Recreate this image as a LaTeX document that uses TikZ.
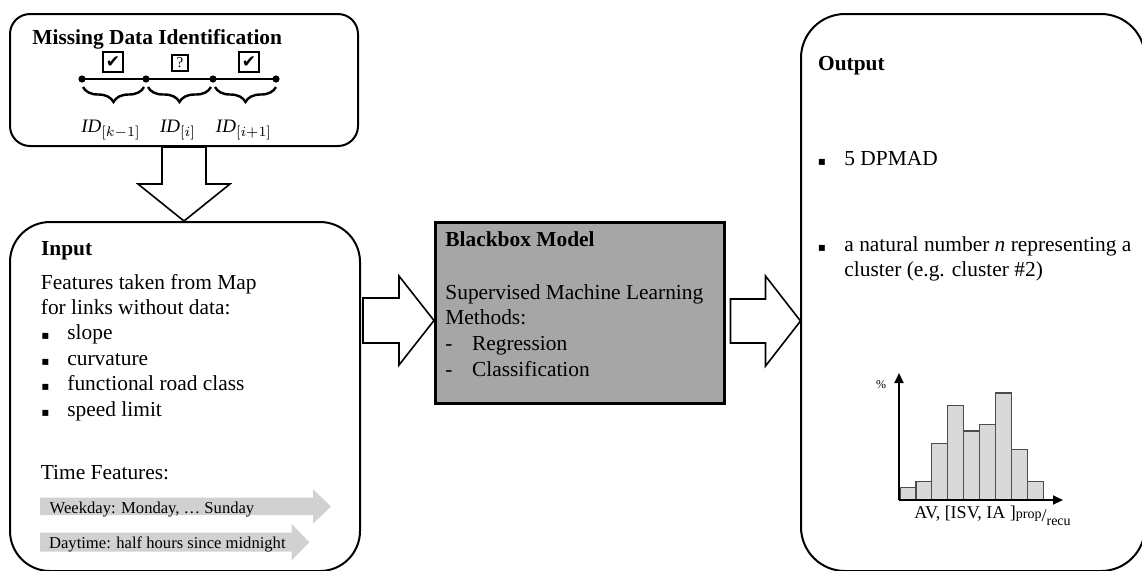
\documentclass[tikz,border=0pt]{standalone}
\usepackage{fontspec}
\setmainfont{Liberation Serif}
\newfontfamily\symfont{DejaVu Sans}
\usetikzlibrary{calc,arrows.meta,decorations.pathreplacing}

\tikzset{
  caja/.style={draw, line width=1pt, rounded corners=#1, inner sep=0pt},
  txt/.style={anchor=base west, inner sep=0pt, font=\fontsize{10.7}{12.85}\selectfont},
  titulo/.style={txt, font=\fontsize{10.7}{12.85}\selectfont\bfseries},
  vineta/.style={anchor=base, inner sep=0pt, font=\symfont\fontsize{6}{7}\selectfont},
  flecha/.style={draw, line width=0.8pt, fill=white, line join=miter},
  gris/.style={fill=black!18},
  chk/.style={draw, line width=0.6pt, minimum size=10pt, inner sep=0pt, font=\symfont\fontsize{8.5}{9}\selectfont},
  llave/.style={decorate, decoration={brace, mirror, amplitude=7.5pt}, line width=1.2pt},
  barra/.style={draw=black!70, fill=black!15, line width=0.6pt},
  eje/.style={line width=1pt, -{Triangle[length=5pt,width=4.5pt]}}
}

\begin{document}
\begin{tikzpicture}[x=0.5pt, y=-0.5pt]
  \useasboundingbox (0,0) rectangle (1142,570);

  % Cajas
  \node[caja=10pt, minimum width=174pt, minimum height=66pt] (misdata) at (184,80) {};
  \node[caja=20pt, minimum width=175pt, minimum height=174.5pt] (input) at (185,396.5) {};
  \node[draw, line width=1.5pt, fill=black!35, minimum width=144.5pt, minimum height=90.5pt] (model) at (579.5,312.5) {};
  \node[caja=22pt, minimum width=172pt, minimum height=278.5pt] (output) at (973,292.5) {};

  % Missing Data Identification
  \node[titulo] (mdtitle) at (32,44) {Missing Data Identification};
  \coordinate (p0) at (82,79);
  \coordinate (p1) at (146,79);
  \coordinate (p2) at (213,79);
  \coordinate (p3) at (276,79);
  \draw[line width=0.8pt] (p0) -- (p3);
  \foreach \p in {p0,p1,p2,p3}
    \fill (\p) circle (1.8pt);
  \node[chk] (chk1) at (113,62) {✔};
  \node[chk, minimum size=8pt, font=\fontsize{7.5}{8}\selectfont] (qst) at (180,63) {?};
  \node[chk] (chk2) at (249,62) {✔};
  \draw[llave] (83,87) -- (144,87);
  \draw[llave] (148,87) -- (211,87);
  \draw[llave] (215,87) -- (276,87);
  \node[anchor=base, inner sep=0pt, font=\fontsize{9.5}{11}\selectfont] (id1) at (111,132) {$\mathit{ID}_{[k-1]}$};
  \node[anchor=base, inner sep=0pt, font=\fontsize{9.5}{11}\selectfont] (id2) at (178,132) {$\mathit{ID}_{[i]}$};
  \node[anchor=base, inner sep=0pt, font=\fontsize{9.5}{11}\selectfont] (id3) at (244,132) {$\mathit{ID}_{[i+1]}$};

  % Flechas de bloque
  \draw[flecha] (misdata.south) ++(-22,0) -- ++(0,37) -- ++(-24,0) -- ++(46,37)
    -- ++(46,-37) -- ++(-24,0) -- ++(0,-37) -- cycle;
  \coordinate (a1) at (input.east |- 0,320.5);
  \draw[flecha] (a1) ++(2,-22.5) -- ++(36,0) -- ++(0,-22) -- ++(35,44.5)
    -- ++(-35,44.5) -- ++(0,-22) -- ++(-36,0) -- cycle;
  \coordinate (a2) at (model.east |- 0,321);
  \draw[flecha] (a2) ++(5,-22) -- ++(35,0) -- ++(0,-23) -- ++(35,45)
    -- ++(-35,45) -- ++(0,-23) -- ++(-35,0) -- cycle;

  % Input
  \node[titulo] (intitle) at (40.7,255) {Input};
  \node[txt] (map1) at (40.5,289) {Features taken from Map};
  \node[txt] (map2) at (40.5,314.5) {for links without data:};
  \foreach \t [count=\i] in {slope, curvature, functional road class, speed limit} {
    \node[vineta] (inb\i) at (45.5,{339.5+(\i-1)*25.7}) {▪};
    \node[txt] (init\i) at (67,{339.5+(\i-1)*25.7}) {\t};
  }
  \node[txt] (time) at (40.5,479.5) {Time Features:};
  \fill[gris] (40,497.7) -- (313,497.7) -- (313,489.3) -- (331,506.5) -- (313,523.7)
    -- (313,515) -- (40,515) -- cycle;
  \node[txt, font=\fontsize{8.3}{10}\selectfont] (weekday) at (49.3,513) {Weekday: Monday, … Sunday};
  \fill[gris] (40,532.7) -- (291.7,532.7) -- (291.7,524) -- (309.3,542.2) -- (291.7,560.4)
    -- (291.7,551.7) -- (40,551.7) -- cycle;
  \node[txt, font=\fontsize{8.3}{10}\selectfont] (daytime) at (48.7,548.3) {Daytime: half hours since midnight};

  % Blackbox Model
  \node[titulo] (bbtitle) at (445,246.7) {Blackbox Model};
  \node[txt] (sml1) at (445,299.3) {Supervised Machine Learning};
  \node[txt] (sml2) at (445,324) {Methods:};
  \node[txt] (d1) at (445,350) {-};
  \node[txt] (reg) at (471.7,350) {Regression};
  \node[txt] (d2) at (445,376) {-};
  \node[txt] (cls) at (471.7,376) {Classification};

  % Output
  \node[titulo] (outtitle) at (817.7,70) {Output};
  \node[vineta] (outb1) at (822,165) {▪};
  \node[txt] (dpmad) at (844,165) {5 DPMAD};
  \node[vineta] (outb2) at (822,251.7) {▪};
  \node[txt] (nat1) at (844,251.7) {a natural number \textit{n} representing a};
  \node[txt] (nat2) at (844,276.7) {cluster (e.g. cluster \#2)};

  % Histograma
  \foreach \h [count=\i] in {12,18.3,56,94.3,68.6,75.3,106.6,50,18.3}
    \draw[barra] ({900+(\i-1)*15.9},499.5) rectangle ++(15.9,-\h);
  \coordinate (orig) at (899,500);
  \draw[eje] (orig) -- (899,373);
  \draw[eje] (orig) -- (1063,500);
  \node[anchor=base, inner sep=0pt, font=\fontsize{6}{7}\selectfont] (pct) at (881,388) {\%};
  \node[txt, font=\fontsize{9}{10}\selectfont] (xlbl) at (914,518)
    {AV, [ISV, IA ]{\fontsize{7}{8}\selectfont prop}\raisebox{-1.5pt}{/}\raisebox{-3.5pt}{\fontsize{7}{8}\selectfont recu}};
\end{tikzpicture}
\end{document}
